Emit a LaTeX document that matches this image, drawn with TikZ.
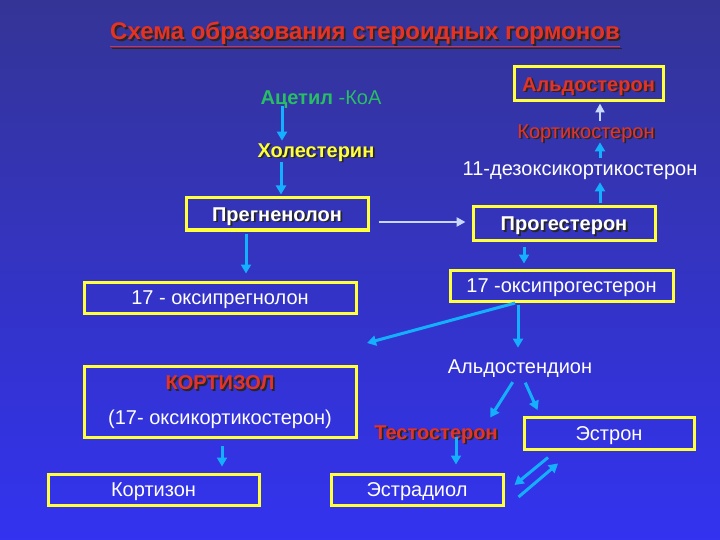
\documentclass[tikz,border=0pt]{standalone}
\usepackage{fontspec}
\setmainfont{Liberation Sans}
\usepackage{xcolor}
\usetikzlibrary{positioning, arrows.meta}

\definecolor{bgtop}{RGB}{52,52,150}
\definecolor{bgbot}{RGB}{51,51,240}
\definecolor{boxyellow}{RGB}{255,255,60}
\definecolor{flowblue}{RGB}{20,176,255}
\definecolor{paleblue}{RGB}{200,215,255}
\definecolor{hred}{RGB}{230,50,35}
\definecolor{acgreen}{RGB}{40,190,100}

% text with a dark drop shadow
\newcommand{\shd}[1]{\leavevmode\rlap{\kern1.8pt\raisebox{-1.8pt}{\color{black!85}#1}}#1}

\begin{document}
\begin{tikzpicture}[
    x=1pt, y=-1pt,
    lbl/.style={text height=14.3pt, text depth=0pt},
    boxbase/.style={rectangle, draw=boxyellow, line width=3pt, text=white, minimum height=32pt, inner sep=2pt, font=\fontsize{20}{24}\selectfont},
    hbox/.style={boxbase, lbl},
    plain/.style={text=white, inner sep=2pt, lbl, font=\fontsize{20}{24}\selectfont},
    bold/.style={inner sep=2pt, lbl, font=\fontsize{20}{24}\selectfont\bfseries},
    flow/.style={-{Triangle[length=9pt,width=10pt]}, line width=3pt, draw=flowblue},
    paleflow/.style={-{Triangle[length=9pt,width=9pt]}, line width=2.4pt, draw=paleblue}
]

\fill[top color=bgtop, bottom color=bgbot] (0,0) rectangle (720,540);

% Nodes
\node[text=hred, text height=17.2pt, text depth=0pt, font=\fontsize{24}{28}\selectfont\bfseries] (title) at (365,31) {\shd{\underline{Схема образования стероидных гормонов}}};

\node[plain, text=acgreen] (acetyl) at (321,97) {\textbf{Ацетил} -КоА};
\node[bold, text=boxyellow] (chol) at (316,150) {\shd{Холестерин}};

\node[hbox, minimum width=182pt, font=\fontsize{20}{24}\selectfont\bfseries] (preg) at (277,214) {\shd{Прегненолон}};
\node[hbox, minimum width=182pt, minimum height=33pt, font=\fontsize{20}{24}\selectfont\bfseries] (prog) at (564,223.5) {\shd{Прогестерон}};

\node[plain] (deoxy) at (580,168) {11-дезоксикортикостерон};
\node[plain, text=hred] (cortico) at (586,131) {\shd{Кортикостерон}};
\node[hbox, minimum width=149pt, minimum height=34pt, text=hred, font=\fontsize{20}{24}\selectfont\bfseries] (aldo) at (588.5,84) {\shd{Альдостерон}};

\node[hbox, minimum width=272pt, minimum height=31pt] (oxypreg) at (220,297.5) {17 - оксипрегнолон};
\node[hbox, minimum width=223pt, minimum height=31pt] (oxyprog) at (561.5,285.5) {17 -оксипрогестерон};

\node[plain] (aldost) at (520,366) {Альдостендион};

\node[boxbase, minimum width=272pt, minimum height=71pt, align=center] (cortisol) at (220,402) {{\color{hred}\bfseries\shd{КОРТИЗОЛ}}\\[11pt](17- оксикортикостерон)};

\node[bold, text=hred] (testo) at (436,432) {\shd{Тестостерон}};
\node[hbox, minimum width=170pt] (estrone) at (609,433) {Эстрон};

\node[hbox, minimum width=211pt, minimum height=31pt] (cortisone) at (153.5,489.5) {Кортизон};
\node[hbox, minimum width=172pt, minimum height=31pt] (estradiol) at (417,489.5) {Эстрадиол};

\coordinate (tocort) at (367,343);

% Arrows
\draw[flow] ([xshift=-39pt]acetyl.south) -- ([xshift=-34pt]chol.north);
\draw[flow, shorten <=3pt, shorten >=2pt] ([xshift=-35pt]chol.south) -- ([xshift=4pt]preg.north);

\draw[paleflow, shorten <=9pt, shorten >=6pt] ([yshift=-8pt]preg.east) -- ([yshift=1.5pt]prog.west);

\draw[flow, shorten <=2pt, shorten >=5pt] ([xshift=36pt]prog.north) -- ([xshift=20pt]deoxy.south);
\draw[flow, shorten <=1pt, shorten >=2pt] ([xshift=20pt]deoxy.north) -- ([xshift=14pt]cortico.south);
\draw[paleflow, shorten <=1pt, shorten >=1pt] ([xshift=14pt]cortico.north) -- ([xshift=11.5pt]aldo.south);

\draw[flow, shorten <=2pt, shorten >=7pt] ([xshift=-31pt]preg.south) -- ([xshift=26pt]oxypreg.north);
\draw[flow, shorten <=5pt, shorten >=5pt] ([xshift=-40pt]prog.south) -- ([xshift=-37.5pt]oxyprog.north);

\draw[flow, shorten <=2pt] ([xshift=-44.5pt]oxyprog.south) -- (tocort);
\draw[flow, shorten <=2pt, shorten >=9pt] ([xshift=-43.5pt]oxyprog.south) -- ([xshift=-2pt]aldost.north);

\draw[flow, shorten <=8pt, shorten >=6pt] ([xshift=-3pt]aldost.south) -- ([xshift=51pt]testo.north);
\draw[flow, shorten <=8pt, shorten >=6pt] ([xshift=2pt]aldost.south) -- ([xshift=-69pt]estrone.north);

\draw[flow, shorten <=7pt, shorten >=6pt] ([xshift=2pt]cortisol.south) -- ([xshift=68.5pt]cortisone.north);
\draw[flow, shorten >=8pt] ([xshift=20pt, yshift=4pt]testo.south) -- ([xshift=39pt]estradiol.north);

\draw[flow] ([xshift=-61pt, yshift=-7pt]estrone.south) -- ([xshift=10pt, yshift=4.5pt]estradiol.east);
\draw[flow] ([xshift=14pt, yshift=-7.5pt]estradiol.east) -- ([xshift=-51pt, yshift=-13pt]estrone.south);

\end{tikzpicture}
\end{document}
